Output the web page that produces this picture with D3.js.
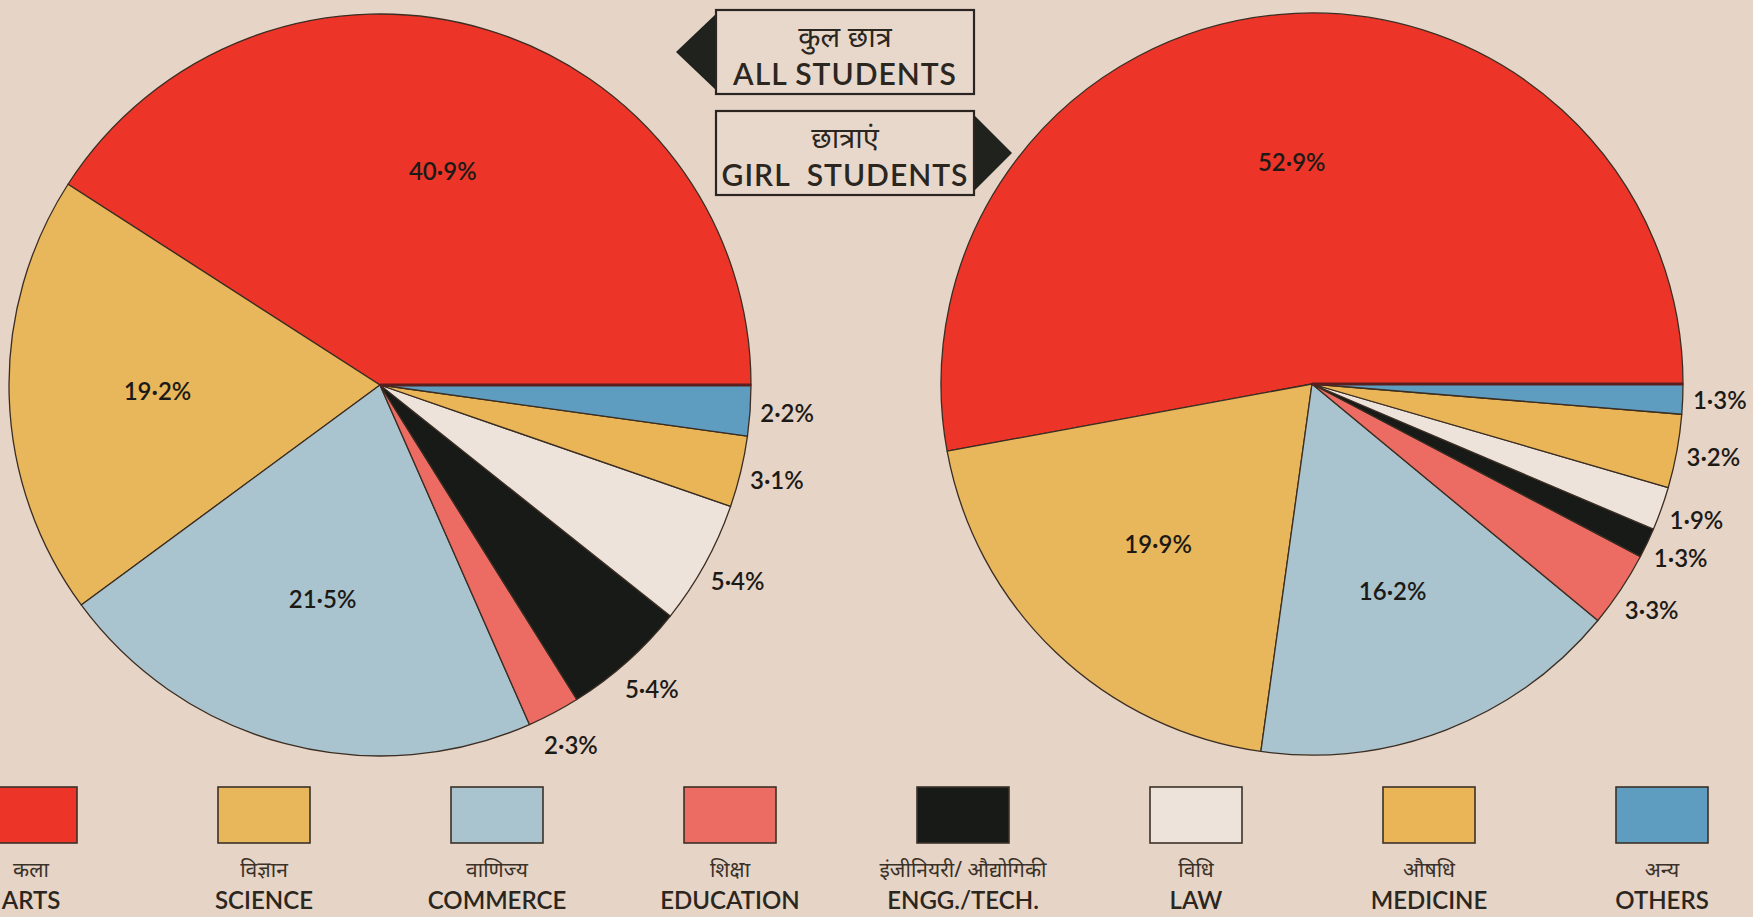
<!DOCTYPE html>
<html>
<head>
<meta charset="utf-8">
<script src="https://cdn.jsdelivr.net/npm/d3@7"></script>
<style>
  html, body { margin: 0; padding: 0; background: #e6d4c6; }
  svg { display: block; }
</style>
</head>
<body>
<svg id="chart"></svg>
<script>
// categories, in the order they run round each pie (anticlockwise from 3 o'clock)
const categoriesEn = ["ARTS", "SCIENCE", "COMMERCE", "EDUCATION", "ENGG./TECH.", "LAW", "MEDICINE", "OTHERS"];
const categoriesHi = ["कला", "विज्ञान", "वाणिज्य", "शिक्षा", "इंजीनियरी/ औद्योगिकी", "विधि", "औषधि", "अन्य"];

// percentages
const allStudents  = [40.9, 19.2, 21.5, 2.3, 5.4, 5.4, 3.1, 2.2];
const girlStudents = [52.9, 19.9, 16.2, 3.3, 1.3, 1.9, 3.2, 1.3];

const sliceColors = ["#ec3528", "#e8b75b", "#a9c4ce", "#ec6b63", "#171a17", "#ede3da", "#e9b556", "#5e9dbf"];

const titles = [
	{hi: "कुल छात्र", en: "ALL STUDENTS", side: "left"},
	{hi: "छात्राएं", en: "GIRL  STUDENTS", side: "right"}
];

let w = 1753;
let h = 917;
let radius = 371;
let font = "Lato, 'Open Sans', 'DejaVu Sans', sans-serif";
let hiFont = "'Noto Sans', 'Noto Sans Devanagari', sans-serif";
let ink = "#2b2620";

let svg = d3.select('#chart')
	.attr('width', w)
	.attr('height', h);

svg.append('rect')
	.attr('width', w)
	.attr('height', h)
	.attr('fill', '#e6d4c6');

let color = d3.scaleOrdinal()
	.domain(categoriesEn)
	.range(sliceColors);

// start at 3 o'clock and go anticlockwise
let pie = d3.pie()
	.sort(null)
	.value(d => d.value)
	.startAngle(Math.PI / 2)
	.endAngle(Math.PI / 2 - 2 * Math.PI);

let arc = d3.arc()
	.innerRadius(0)
	.outerRadius(radius);

let fmt = v => d3.format(".1f")(v).replace(".", "·") + "%";

function drawPie(values, cx, cy) {
	let data = categoriesEn.map((c, i) => ({key: c, value: values[i]}));
	let arcs = pie(data);
	let g = svg.append('g')
		.attr('transform', `translate(${cx},${cy})`);

	g.selectAll('path')
		.data(arcs)
		.enter()
		.append('path')
		.attr('d', arc)
		.attr('fill', d => color(d.data.key))
		.attr('stroke', '#3b2d22')
		.attr('stroke-width', 1.3)
		.attr('stroke-linejoin', 'round');

	// dark edge along the first radius
	let a0 = arcs[0].startAngle;
	g.append('line')
		.attr('x1', 0).attr('y1', 0)
		.attr('x2', Math.sin(a0) * radius)
		.attr('y2', -Math.cos(a0) * radius)
		.attr('stroke', '#5a1f1c')
		.attr('stroke-width', 3);

	let inner = d3.arc().innerRadius(radius * 0.6).outerRadius(radius * 0.6);
	let outer = d3.arc().innerRadius(radius * 1.1).outerRadius(radius * 1.1);

	g.selectAll('text.lab')
		.data(arcs)
		.enter()
		.append('text')
		.attr('class', 'lab')
		.attr('transform', d => {
			let c = d.data.value >= 10 ? inner.centroid(d) : outer.centroid(d);
			return `translate(${c[0]},${c[1]})`;
		})
		.attr('text-anchor', 'middle')
		.attr('dy', '0.35em')
		.attr('font-family', font)
		.attr('font-weight', 600)
		.attr('font-size', 24)
		.attr('fill', '#1c1a16')
		.text(d => fmt(d.data.value));
}

drawPie(allStudents, 380, 385);
drawPie(girlStudents, 1312, 384);

// title boxes with pointers
let boxes = svg.append('g');
let boxX = 716, boxW = 258, boxH = 84;
titles.forEach((t, i) => {
	let y0 = i === 0 ? 10 : 111;
	let b = boxes.append('g').attr('transform', `translate(${boxX},${y0})`);
	if (t.side === 'left') {
		b.append('path')
			.attr('d', `M2,2 L-40,${boxH / 2} L2,${boxH - 2} Z`)
			.attr('fill', '#1f221d');
	} else {
		b.append('path')
			.attr('d', `M${boxW - 2},2 L${boxW + 38},${boxH / 2} L${boxW - 2},${boxH - 2} Z`)
			.attr('fill', '#1f221d');
	}
	b.append('rect')
		.attr('width', boxW)
		.attr('height', boxH)
		.attr('fill', '#e8d8cb')
		.attr('stroke', '#2a2520')
		.attr('stroke-width', 2.2);
	b.append('text')
		.attr('x', boxW / 2)
		.attr('y', 37)
		.attr('text-anchor', 'middle')
		.attr('font-family', hiFont)
		.attr('font-size', 29)
		.attr('fill', ink)
		.text(t.hi);
	b.append('text')
		.attr('x', boxW / 2)
		.attr('y', 75)
		.attr('text-anchor', 'middle')
		.attr('font-family', font)
		.attr('font-weight', 600)
		.attr('font-size', 30)
		.attr('letter-spacing', 1)
		.attr('fill', ink)
		.style('white-space', 'pre')
		.text(t.en);
});

// legend
let lx = d3.scalePoint()
	.domain(categoriesEn)
	.range([31, 1662]);

let legend = svg.append('g')
	.selectAll('g')
	.data(categoriesEn)
	.enter()
	.append('g')
	.attr('transform', d => `translate(${lx(d)},0)`);

legend.append('rect')
	.attr('x', -46)
	.attr('y', 787)
	.attr('width', 92)
	.attr('height', 56)
	.attr('fill', d => color(d))
	.attr('stroke', '#3b3128')
	.attr('stroke-width', 1.6);

legend.append('text')
	.attr('y', 877)
	.attr('text-anchor', 'middle')
	.attr('font-family', hiFont)
	.attr('font-size', 21)
	.attr('fill', '#3a3128')
	.text((d, i) => categoriesHi[i]);

legend.append('text')
	.attr('y', 909)
	.attr('text-anchor', 'middle')
	.attr('font-family', font)
	.attr('font-weight', 600)
	.attr('font-size', 24)
	.attr('fill', ink)
	.text(d => d);
</script>
</body>
</html>
